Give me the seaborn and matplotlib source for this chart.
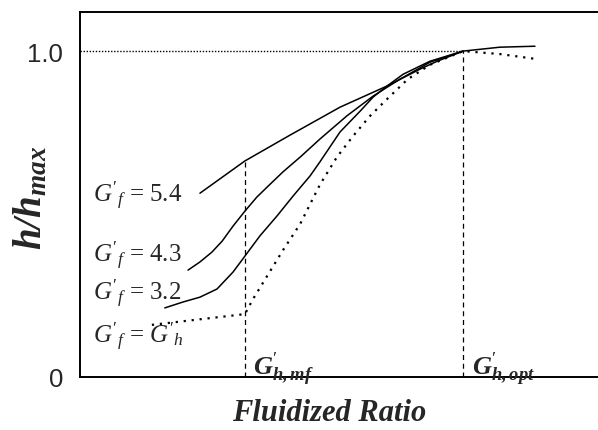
import numpy as np
import pandas as pd
import matplotlib
matplotlib.use('Agg')
import matplotlib.pyplot as plt
import seaborn as sns

# curve data (x in arbitrary ratio units, y = h/hmax)
x_54 = [2.32, 3.19, 4.06, 5.03, 5.94, 6.58, 6.91, 7.41, 8.12, 8.80]
y_54 = [0.564, 0.663, 0.742, 0.828, 0.893, 0.945, 0.969, 1.0, 1.012, 1.015]

x_43 = [2.09, 2.32, 2.55, 2.75, 2.96, 3.19, 3.42, 3.68, 3.93, 4.26, 4.64,
        5.16, 5.67, 6.19, 6.77, 7.41]
y_43 = [0.328, 0.353, 0.383, 0.417, 0.463, 0.509, 0.552, 0.592, 0.630, 0.675, 0.730,
        0.801, 0.862, 0.914, 0.966, 1.0]

x_32 = [1.64, 1.99, 2.32, 2.65, 2.96, 3.19, 3.48, 3.81, 4.12, 4.45, 4.64,
        5.03, 5.42, 5.67, 5.94, 6.25, 6.77, 7.41]
y_32 = [0.212, 0.230, 0.245, 0.270, 0.322, 0.371, 0.433, 0.494, 0.555, 0.617, 0.660,
        0.752, 0.816, 0.859, 0.893, 0.929, 0.969, 1.0]

x_gh = [1.39, 3.19, 3.35, 3.62, 3.93, 4.26, 4.64, 4.97, 5.28, 5.61, 5.94,
        6.34, 6.77, 7.41, 8.12, 8.86]
y_gh = [0.160, 0.193, 0.240, 0.310, 0.390, 0.470, 0.590, 0.675, 0.739, 0.801, 0.853,
        0.914, 0.958, 1.0, 0.991, 0.975]

x_mf = 3.19
x_opt = 7.41
y_mf_top = 0.663

labels = [r"$G'_f$ = 5.4", r"$G'_f$ = 4.3", r"$G'_f$ = 3.2", r"$G'_f$ = $G'_h$"]
label_y = [0.54, 0.356, 0.239, 0.107]

sns.set_style('white')
plt.rcParams['mathtext.fontset'] = 'custom'
plt.rcParams['mathtext.rm'] = 'Liberation Serif'
plt.rcParams['mathtext.it'] = 'Liberation Serif:italic'
plt.rcParams['mathtext.bf'] = 'Liberation Serif:bold'
plt.rcParams['mathtext.bfit'] = 'Liberation Serif:bold:italic'
plt.rcParams['font.family'] = ['Liberation Serif', 'DejaVu Sans']

fig = plt.figure(figsize=(5.98, 4.31), dpi=100)
ax = fig.add_axes([80/598, 53/431, 517/598, 365/431])

for xs, ys in [(x_54, y_54), (x_43, y_43), (x_32, y_32)]:
    df = pd.DataFrame({'x': xs, 'y': ys})
    sns.lineplot(data=df, x='x', y='y', ax=ax, color='black', lw=1.1,
                 estimator=None, sort=False)

df = pd.DataFrame({'x': x_gh, 'y': y_gh})
sns.lineplot(data=df, x='x', y='y', ax=ax, color='black', lw=1.6,
             estimator=None, sort=False, linestyle=(0, (1, 2.6)))

# reference lines
ax.plot([0, x_opt], [1, 1], color='black', lw=1.0, linestyle=(0, (1, 1.2)))
ax.plot([x_mf, x_mf], [0, y_mf_top], color='black', lw=0.9, linestyle=(0, (4, 3)))
ax.plot([x_opt, x_opt], [0, 1], color='black', lw=0.9, linestyle=(0, (4, 3)))

for lab, yy in zip(labels, label_y):
    ax.text(0.25, yy, lab, fontsize=18, va='baseline', ha='left')

ax.text(x_mf + 0.16, 0.005, r"$\mathbfit{G}^{\prime}_{\mathbfit{h,mf}}$", fontsize=19,
        va='baseline', ha='left')
ax.text(x_opt + 0.17, 0.005, r"$\mathbfit{G}^{\prime}_{\mathbfit{h,opt}}$", fontsize=19,
        va='baseline', ha='left')

ax.set_xlim(0, 10)
ax.set_ylim(0, 1.12)
ax.set_xticks([])
ax.set_yticks([0, 1.0])
ax.set_yticklabels(['0', '1.0'], fontsize=18.5, family='Liberation Sans')
ax.tick_params(axis='y', length=0, pad=12)
ax.set_xlabel('')
ax.set_ylabel('')

for s in ['left', 'top', 'bottom']:
    ax.spines[s].set_visible(True)
    ax.spines[s].set_color('black')
    ax.spines[s].set_linewidth(1.4)
ax.spines['right'].set_visible(False)

fig.text(329/598, 1 - 421/431, 'Fluidized Ratio', fontsize=22, fontweight='bold',
         style='italic', ha='center', va='baseline')
fig.text(31/598, 1 - 198/431, r"$\mathbfit{h/h}_{\mathbfit{max}}$", fontsize=28,
         rotation=90, ha='center', va='center')

fig.savefig('out.png', dpi=100)
